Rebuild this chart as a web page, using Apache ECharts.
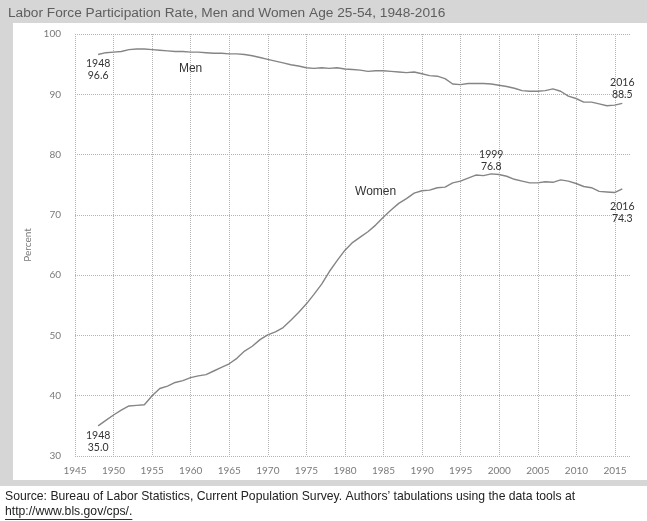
<!DOCTYPE html>
<html>
<head>
<meta charset="utf-8">
<script src="https://cdn.jsdelivr.net/npm/echarts@6/dist/echarts.min.js"></script>
<style>
html,body{margin:0;padding:0;background:#fff;}
#chart{width:647px;height:521px;}
</style>
</head>
<body>
<div id="chart"></div>
<script>
// ---- data ----
const years = [
  1948,1949,1950,1951,1952,1953,1954,1955,1956,1957,
  1958,1959,1960,1961,1962,1963,1964,1965,1966,1967,
  1968,1969,1970,1971,1972,1973,1974,1975,1976,1977,
  1978,1979,1980,1981,1982,1983,1984,1985,1986,1987,
  1988,1989,1990,1991,1992,1993,1994,1995,1996,1997,
  1998,1999,2000,2001,2002,2003,2004,2005,2006,2007,
  2008,2009,2010,2011,2012,2013,2014,2015,2016
];
const men = [
  96.6,96.9,97.0,97.1,97.4,97.5,97.5,97.4,97.3,97.2,
  97.1,97.1,97.0,97.0,96.9,96.8,96.8,96.7,96.7,96.6,
  96.4,96.1,95.8,95.5,95.2,94.9,94.7,94.4,94.3,94.4,
  94.3,94.4,94.2,94.1,94.0,93.8,93.9,93.9,93.8,93.7,
  93.6,93.7,93.4,93.1,93.0,92.6,91.7,91.6,91.8,91.8,
  91.8,91.7,91.5,91.3,91.0,90.6,90.5,90.5,90.6,90.9,
  90.5,89.7,89.3,88.7,88.7,88.4,88.1,88.2,88.5
];
const women = [
  35.0,35.9,36.8,37.6,38.3,38.4,38.5,40.0,41.2,41.6,
  42.2,42.5,43.0,43.3,43.5,44.1,44.7,45.3,46.2,47.4,
  48.2,49.3,50.1,50.6,51.3,52.5,53.8,55.2,56.8,58.5,
  60.6,62.4,64.1,65.4,66.3,67.2,68.3,69.6,70.8,71.9,
  72.7,73.6,74.0,74.1,74.5,74.6,75.3,75.6,76.1,76.6,
  76.5,76.8,76.7,76.4,75.9,75.6,75.3,75.3,75.5,75.4,
  75.8,75.6,75.2,74.7,74.5,73.9,73.8,73.7,74.3
];
const yTicks = [30,40,50,60,70,80,90,100];
const xTickYears = [1945,1950,1955,1960,1965,1970,1975,1980,1985,1990,1995,2000,2005,2010,2015];
const titleText = 'Labor Force Participation Rate, Men and Women Age 25-54, 1948-2016';
const sourceLine1 = 'Source: Bureau of Labor Statistics, Current Population Survey. Authors\u2019 tabulations using the data tools at';
const sourceLine2 = 'http://www.bls.gov/cps/.';

// ---- annotation labels (by year) ----
const menNotes = {1948: {pos:'bottom', dist:3, off:[-3,0]}, 2016: {pos:'top', dist:3, off:[0,0]}};
const womenNotes = {1948: {pos:'bottom', dist:4, off:[0,0]}, 1999: {pos:'top', dist:1, off:[0,0]}, 2016: {pos:'bottom', dist:12, off:[-2,0]}};

const noteFont = {fontFamily:'Lato, "Liberation Sans", sans-serif', fontSize:10.5, lineHeight:12, color:'#333'};

function build(vals, notes, nameYear, nameCfg, nameText) {
  return years.map((y, i) => {
    const item = {value:[y, vals[i]]};
    if (notes[y]) {
      const n = notes[y];
      item.label = Object.assign({show:true, position:n.pos, distance:n.dist, offset:n.off,
        formatter: y + '\n' + vals[i].toFixed(1)}, noteFont);
    } else if (y === nameYear) {
      item.label = Object.assign({show:true, formatter:nameText,
        fontFamily:'"Liberation Sans", Arial, sans-serif', fontSize:12, color:'#333'}, nameCfg);
    }
    return item;
  });
}

const srcFont = '12.2px "Liberation Sans", Arial, sans-serif';
const measureCtx = document.createElement('canvas').getContext('2d');
measureCtx.font = srcFont;
const line2Width = measureCtx.measureText(sourceLine2).width;

const chart = echarts.init(document.getElementById('chart'), null, {renderer:'canvas'});
const gridColor = '#b4b4b4';
const tickLabel = {color:'#7a7a7a', fontSize:10, fontFamily:'Lato, "Liberation Sans", sans-serif'};

chart.setOption({
  animation:false,
  backgroundColor:'#ffffff',
  title:{
    text:titleText, left:8, top:6, padding:0,
    textStyle:{fontFamily:'"Liberation Sans", Arial, sans-serif', fontSize:13.7, fontWeight:'normal', color:'#5e5e5e'}
  },
  graphic:[
    {type:'rect', z:-10, silent:true, shape:{x:0, y:0, width:647, height:23}, style:{fill:'#d6d6d6'}},
    {type:'rect', z:-10, silent:true, shape:{x:0, y:0, width:13, height:486}, style:{fill:'#d6d6d6'}},
    {type:'rect', z:-10, silent:true, shape:{x:0, y:480, width:647, height:6}, style:{fill:'#d6d6d6'}},
    {type:'text', left:5, top:491, style:{text:sourceLine1, fill:'#222', font:srcFont}},
    {type:'text', left:5, top:506, style:{text:sourceLine2, fill:'#222', font:srcFont}},
    {type:'rect', silent:true, shape:{x:5, y:519, width:line2Width, height:1}, style:{fill:'#333'}}
  ],
  grid:[
    {left:75, top:34, right:17, bottom:65, containLabel:false},
    {left:75, top:34, right:32, bottom:65, containLabel:false}
  ],
  xAxis:[
    {gridIndex:0, type:'value', min:1945, max:2017, show:true,
     axisLine:{show:false}, axisTick:{show:false}, axisLabel:{show:false}, splitLine:{show:false}},
    {gridIndex:1, type:'value', min:xTickYears[0], max:xTickYears[xTickYears.length-1], interval:5,
     axisLine:{show:false}, axisTick:{show:false},
     axisLabel:Object.assign({margin:10, showMinLabel:true, showMaxLabel:true, formatter:v => String(v)}, tickLabel),
     splitLine:{show:true, lineStyle:{color:gridColor, type:'dotted', width:1}}}
  ],
  yAxis:[
    {gridIndex:0, type:'value', min:yTicks[0], max:yTicks[yTicks.length-1], interval:10,
     name:'Percent', nameLocation:'middle', nameGap:40, nameRotate:90,
     nameTextStyle:{color:'#7a7a7a', fontSize:10, fontFamily:'Lato, "Liberation Sans", sans-serif'},
     axisLine:{show:false}, axisTick:{show:false},
     axisLabel:Object.assign({margin:14}, tickLabel),
     splitLine:{show:true, lineStyle:{color:gridColor, type:'dotted', width:1}}},
    {gridIndex:1, type:'value', min:yTicks[0], max:yTicks[yTicks.length-1], interval:10, show:false,
     splitLine:{show:false}}
  ],
  series:[
    {name:'Men', type:'line', xAxisIndex:0, yAxisIndex:0, showSymbol:true, symbol:'circle', symbolSize:0,
     lineStyle:{color:'#858585', width:1.4}, itemStyle:{color:'#858585'}, z:5,
     labelLayout:{hideOverlap:false},
     data:build(men, menNotes, 1960, {position:'bottom', distance:11, offset:[0,0]}, 'Men')},
    {name:'Women', type:'line', xAxisIndex:0, yAxisIndex:0, showSymbol:true, symbol:'circle', symbolSize:0,
     lineStyle:{color:'#858585', width:1.4}, itemStyle:{color:'#858585'}, z:5,
     labelLayout:{hideOverlap:false},
     data:build(women, womenNotes, 1984, {position:'top', distance:27, offset:[3,0]}, 'Women')}
  ]
});
</script>
</body>
</html>
